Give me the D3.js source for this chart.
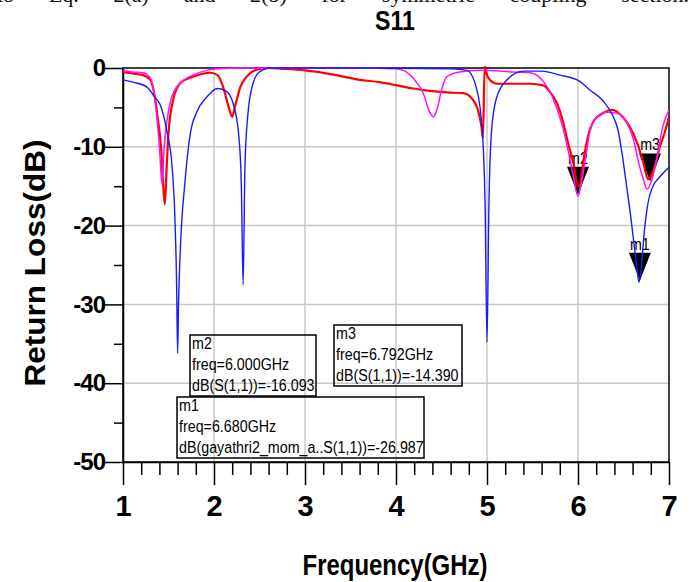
<!DOCTYPE html>
<html>
<head>
<meta charset="utf-8">
<script src="https://cdn.jsdelivr.net/npm/d3@7"></script>
<style>
  body { margin: 0; background: #fff; }
  svg { display: block; }
</style>
</head>
<body>
<svg id="chart" width="692" height="582"></svg>
<script>

// S11 traces, [frequency GHz, dB]
let redPoints = [
  [1.00,-0.5],[1.10,-0.7],[1.22,-0.9],[1.30,-1.5],[1.35,-3.7],[1.38,-6.2],[1.42,-10.4],[1.44,-14.6],
  [1.46,-17.3],[1.48,-12.5],[1.50,-8.3],[1.55,-4.1],[1.63,-1.9],[1.77,-1.1],[1.96,-0.6],[2.04,-0.9],
  [2.10,-2.4],[2.16,-4.9],[2.20,-6.2],[2.23,-4.9],[2.29,-2.4],[2.36,-1.1],[2.47,-0.2],[2.58,0],
  [2.75,-0.1],[3.00,-0.3],[3.30,-0.8],[3.60,-1.5],[3.82,-1.8],[4.01,-2.2],[4.19,-2.6],[4.37,-2.9],
  [4.56,-3.1],[4.74,-3.2],[4.85,-4.1],[4.90,-5.3],[4.94,-7.5],[4.955,-8.9],[4.975,0.3],[4.99,-0.5],
  [5.03,-1.5],[5.11,-2.0],[5.29,-2.0],[5.47,-2.0],[5.62,-2.2],[5.69,-3.0],[5.77,-4.5],[5.84,-7.0],
  [5.89,-9.5],[5.95,-12.1],[6.00,-15.0],[6.02,-14.8],[6.06,-11.7],[6.11,-8.7],[6.18,-6.6],[6.28,-5.7],
  [6.37,-5.3],[6.49,-6.2],[6.57,-7.5],[6.65,-9.5],[6.72,-12.1],[6.77,-14.1],[6.82,-13.3],[6.90,-10.0],
  [6.96,-7.9],[7.00,-6.2]
];

let magentaPoints = [
  [1.00,-0.3],[1.10,-0.5],[1.22,-0.6],[1.30,-1.3],[1.34,-3.0],[1.37,-6.0],[1.40,-10.0],[1.43,-14.8],
  [1.45,-10.4],[1.49,-6.2],[1.55,-3.2],[1.65,-1.7],[1.77,-0.9],[1.92,-0.3],[2.04,-0.1],[2.30,0],
  [3.00,0],[3.60,0],[4.00,-0.1],[4.10,-0.4],[4.19,-1.3],[4.30,-3.2],[4.37,-5.6],[4.41,-6.2],
  [4.45,-5.3],[4.50,-2.8],[4.56,-1.1],[4.70,-0.5],[4.92,-0.3],[5.29,-0.5],[5.47,-0.6],[5.62,-1.7],
  [5.73,-4.0],[5.82,-7.0],[5.89,-10.4],[5.95,-13.8],[6.00,-16.3],[6.02,-15.5],[6.08,-11.7],[6.13,-8.1],
  [6.20,-6.3],[6.31,-5.6],[6.42,-5.7],[6.54,-7.0],[6.61,-9.1],[6.66,-11.7],[6.72,-14.2],[6.76,-15.4],
  [6.81,-14.2],[6.87,-11.3],[6.93,-7.5],[7.00,-5.3]
];

let bluePoints = [
  [1.00,-1.5],[1.11,-1.8],[1.26,-2.4],[1.35,-3.7],[1.41,-4.7],[1.48,-7.9],[1.54,-12.6],[1.57,-18.9],
  [1.59,-28.0],[1.60,-36.2],[1.61,-30.0],[1.63,-23.0],[1.68,-14.6],[1.74,-8.3],[1.81,-5.6],[1.92,-3.7],
  [2.04,-2.6],[2.14,-3.0],[2.21,-4.5],[2.27,-8.3],[2.30,-14.6],[2.32,-27.5],[2.34,-12.5],[2.37,-6.2],
  [2.43,-1.9],[2.50,-0.5],[2.62,0],[3.50,0],[4.60,-0.1],[4.78,-0.3],[4.89,-2.8],[4.95,-8.3],
  [4.98,-18.0],[5.00,-34.8],[5.02,-18.0],[5.05,-8.0],[5.10,-4.0],[5.22,-1.5],[5.40,-0.4],[5.60,-0.4],
  [5.80,-0.9],[6.02,-1.7],[6.13,-2.8],[6.27,-4.1],[6.38,-6.0],[6.44,-7.9],[6.49,-11.3],[6.54,-15.5],
  [6.58,-18.9],[6.61,-21.8],[6.65,-25.6],[6.67,-27.2],[6.70,-24.7],[6.73,-20.6],[6.77,-17.1],[6.82,-15.1],
  [6.90,-13.8],[7.00,-12.6]
];

// markers
let markerNames = ["m1", "m2", "m3"];
let markerFreq = [6.680, 6.000, 6.792];
let markerDb = [-26.987, -16.093, -14.390];
let markerExpr = ["dB(gayathri2_mom_a..S(1,1))", "dB(S(1,1))", "dB(S(1,1))"];

// ticks
let xMajor = [1, 2, 3, 4, 5, 6, 7];
let yMajor = [0, -10, -20, -30, -40, -50];
let yMinor = [-5, -15, -25, -35, -45];

let svgWidth = 692;
let svgHeight = 582;
let padding = {t: 68, r: 23, b: 120, l: 123};
let chartWidth = svgWidth - padding.l - padding.r;
let chartHeight = svgHeight - padding.t - padding.b;

let font = '"Liberation Sans", Arial, sans-serif';

let svg = d3.select('#chart');

let x = d3.scaleLinear().domain([1, 7]).range([padding.l, padding.l + chartWidth]);
let y = d3.scaleLinear().domain([0, -50]).range([padding.t, padding.t + chartHeight]);

// cut-off line of the paper text above the figure
let paperLine = svg.append('text')
    .attr('x', -3)
    .attr('y', 2)
    .attr('font-family', '"Liberation Serif", "Times New Roman", serif')
    .attr('font-size', 22)
    .attr('fill', '#111')
    .text('to Eq. 2(a) and 2(b) for symmetric coupling section.');
let natural = paperLine.node().getComputedTextLength();
paperLine.attr('word-spacing', (692 - natural) / 8);

// grid
let grid = svg.append('g').attr('stroke', '#c8c8c8').attr('stroke-width', 1.5);
grid.selectAll('line.gx')
    .data(xMajor.slice(1, -1))
    .enter().append('line')
    .attr('class', 'gx')
    .attr('x1', d => x(d)).attr('x2', d => x(d))
    .attr('y1', y(0)).attr('y2', y(-50));
grid.selectAll('line.gy')
    .data(yMajor.slice(1, -1))
    .enter().append('line')
    .attr('class', 'gy')
    .attr('x1', x(1)).attr('x2', x(7))
    .attr('y1', d => y(d)).attr('y2', d => y(d));

// minor ticks (0.2 GHz steps, 5 dB steps)
let xMinor = d3.range(1, 7.001, 0.2).filter(d => Math.abs(d - Math.round(d)) > 0.01);

svg.append('g')
    .attr('transform', 'translate(0,' + y(-50) + ')')
    .call(d3.axisBottom(x).tickValues(xMinor).tickSize(13).tickSizeOuter(0).tickFormat(''))
    .call(g => g.select('.domain').remove())
    .selectAll('line').attr('stroke', '#000').attr('stroke-width', 1.5);

svg.append('g')
    .attr('transform', 'translate(' + x(1) + ',0)')
    .call(d3.axisLeft(y).tickValues(yMinor).tickSize(9).tickSizeOuter(0).tickFormat(''))
    .call(g => g.select('.domain').remove())
    .selectAll('line').attr('stroke', '#000').attr('stroke-width', 1.5);

// major axes
let xAxis = svg.append('g')
    .attr('transform', 'translate(0,' + y(-50) + ')')
    .call(d3.axisBottom(x).tickValues(xMajor).tickSize(23).tickSizeOuter(0).tickPadding(10).tickFormat(d => String(d)));
xAxis.selectAll('line').attr('stroke', '#000').attr('stroke-width', 1.5);
xAxis.select('.domain').attr('stroke', '#000').attr('stroke-width', 1.5);
xAxis.selectAll('text')
    .attr('fill', '#000')
    .attr('font-family', font)
    .attr('font-weight', 'bold')
    .attr('font-size', 29);

let yAxis = svg.append('g')
    .attr('transform', 'translate(' + x(1) + ',0)')
    .call(d3.axisLeft(y).tickValues(yMajor).tickSize(19).tickSizeOuter(0).tickPadding(-1).tickFormat(d => String(d)));
yAxis.selectAll('line').attr('stroke', '#000').attr('stroke-width', 1.5);
yAxis.select('.domain').attr('stroke', '#000').attr('stroke-width', 1.5);
yAxis.selectAll('text')
    .attr('fill', '#000')
    .attr('font-family', font)
    .attr('font-weight', 'bold')
    .attr('font-size', 24)
    .attr('letter-spacing', -1);

// frame
svg.append('rect')
    .attr('x', x(1)).attr('y', y(0))
    .attr('width', chartWidth).attr('height', chartHeight)
    .attr('fill', 'none')
    .attr('stroke', '#000')
    .attr('stroke-width', 1.5);

// marker triangles sit under the traces
let markers = svg.append('g');
markerNames.forEach(function(name, i) {
    let tx = x(markerFreq[i]);
    let ty = y(markerDb[i]);
    markers.append('path')
        .attr('d', 'M' + (tx - 11) + ',' + (ty - 28) + 'L' + (tx + 11) + ',' + (ty - 28) + 'L' + tx + ',' + ty + 'Z')
        .attr('fill', '#000');
    markers.append('g')
        .attr('transform', 'translate(' + tx + ',' + (ty - 31) + ') scale(0.84,1)')
        .append('text')
        .attr('text-anchor', 'middle')
        .attr('font-family', font)
        .attr('font-size', 17)
        .attr('fill', '#000')
        .text(name);
});

// traces
svg.append('clipPath').attr('id', 'plot-clip')
    .append('rect')
    .attr('x', x(1)).attr('y', y(0) - 2)
    .attr('width', chartWidth).attr('height', chartHeight + 2);

let line = d3.line()
    .x(d => x(d[0]))
    .y(d => y(d[1]))
    .curve(d3.curveMonotoneX);

let traces = [
    {points: redPoints, color: '#ff0000', width: 2.2},
    {points: magentaPoints, color: '#ff11ff', width: 1.5},
    {points: bluePoints, color: '#1a1aff', width: 1.4}
];

svg.append('g')
    .attr('clip-path', 'url(#plot-clip)')
    .selectAll('path')
    .data(traces)
    .enter().append('path')
    .attr('d', d => line(d.points))
    .attr('fill', 'none')
    .attr('stroke', d => d.color)
    .attr('stroke-width', d => d.width)
    .attr('stroke-linejoin', 'round');

// marker readout boxes
let boxes = [
    {i: 1, x: 190, y: 335, w: 126, h: 61},
    {i: 2, x: 334, y: 325, w: 128, h: 61},
    {i: 0, x: 177, y: 397, w: 247, h: 61}
];

boxes.forEach(function(b) {
    svg.append('rect')
        .attr('x', b.x).attr('y', b.y)
        .attr('width', b.w).attr('height', b.h)
        .attr('fill', 'none')
        .attr('stroke', '#000')
        .attr('stroke-width', 1.5);
    let lines = [
        markerNames[b.i],
        'freq=' + markerFreq[b.i].toFixed(3) + 'GHz',
        markerExpr[b.i] + '=' + markerDb[b.i].toFixed(3)
    ];
    let g = svg.append('g')
        .attr('transform', 'translate(' + (b.x + 2) + ',' + b.y + ') scale(0.84,1)');
    g.selectAll('text')
        .data(lines)
        .enter().append('text')
        .attr('x', 0)
        .attr('y', (d, k) => 14 + k * 21)
        .attr('font-family', font)
        .attr('font-size', 17)
        .attr('fill', '#000')
        .text(d => d);
});

// titles
svg.append('text')
    .attr('x', 395)
    .attr('y', 30)
    .attr('text-anchor', 'middle')
    .attr('font-family', font)
    .attr('font-weight', 'bold')
    .attr('font-size', 28)
    .attr('textLength', 40)
    .attr('lengthAdjust', 'spacingAndGlyphs')
    .attr('fill', '#000')
    .text('S11');

svg.append('text')
    .attr('x', 395)
    .attr('y', 575)
    .attr('text-anchor', 'middle')
    .attr('font-family', font)
    .attr('font-weight', 'bold')
    .attr('font-size', 30)
    .attr('textLength', 185)
    .attr('lengthAdjust', 'spacingAndGlyphs')
    .attr('fill', '#000')
    .text('Frequency(GHz)');

svg.append('text')
    .attr('transform', 'translate(45,263) rotate(-90)')
    .attr('text-anchor', 'middle')
    .attr('font-family', font)
    .attr('font-weight', 'bold')
    .attr('font-size', 29)
    .attr('textLength', 247)
    .attr('lengthAdjust', 'spacingAndGlyphs')
    .attr('fill', '#000')
    .text('Return Loss(dB)');

</script>
</body>
</html>
